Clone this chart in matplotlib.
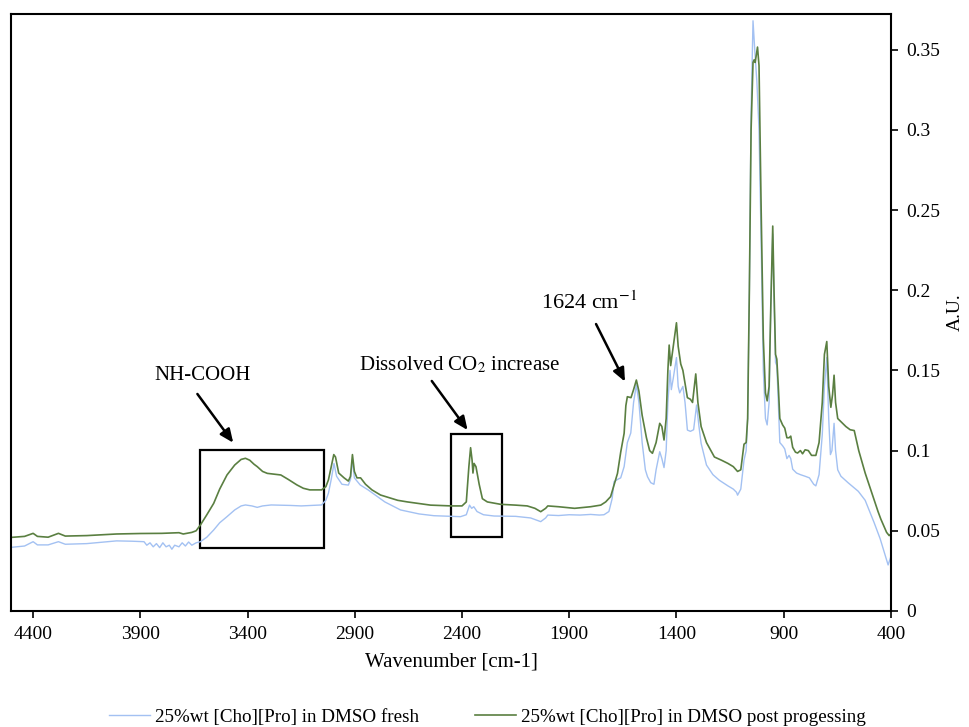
import matplotlib
matplotlib.use("Agg")
import matplotlib.pyplot as plt
from matplotlib.patches import Rectangle

plt.rcParams['font.family'] = ['Liberation Serif', 'DejaVu Serif']
plt.rcParams['mathtext.fontset'] = 'stix'

# spectrum 1: 25%wt [Cho][Pro] in DMSO fresh
wn_fresh = [4500, 4440, 4400, 4380, 4330, 4282, 4250, 4150, 4011, 3940, 3883, 3870, 3855, 3840,
            3825, 3810, 3795, 3780, 3765, 3753, 3740, 3720, 3705, 3690, 3675, 3660, 3640, 3620,
            3590, 3558, 3530, 3496, 3460, 3430, 3410, 3380, 3355, 3330, 3290, 3200, 3150, 3055,
            3035, 3023, 3010, 2997, 2985, 2960, 2930, 2920, 2911, 2902, 2875, 2838, 2760, 2687,
            2600, 2531, 2407, 2380, 2365, 2355, 2345, 2330, 2300, 2250, 2150, 2080, 2040, 2033,
            2010, 2000, 1950, 1900, 1850, 1800, 1760, 1738, 1715, 1700, 1691, 1675, 1660, 1644,
            1629, 1613, 1600, 1587, 1575, 1560, 1545, 1535, 1520, 1505, 1495, 1478, 1468, 1458,
            1448, 1440, 1430, 1424, 1415, 1400, 1392, 1385, 1370, 1360, 1349, 1335, 1320, 1306,
            1295, 1285, 1260, 1230, 1200, 1160, 1135, 1120, 1115, 1100, 1085, 1075, 1068, 1060,
            1052, 1043, 1035, 1025, 1015, 1005, 995, 985, 977, 968, 960, 951, 945, 938, 932, 925,
            918, 905, 895, 885, 875, 867, 858, 840, 822, 800, 780, 760, 750, 735, 720, 710, 699,
            690, 682, 675, 665, 658, 648, 633, 600, 552, 520, 478, 450, 413, 400]
ab_fresh = [0.0397, 0.0405, 0.0432, 0.0412, 0.0412, 0.0432, 0.0416, 0.0420, 0.0437, 0.0435, 0.0432,
            0.0410, 0.0425, 0.0400, 0.0420, 0.0395, 0.0425, 0.0400, 0.0410, 0.0385, 0.0410, 0.0400,
            0.0425, 0.0405, 0.0430, 0.0410, 0.0425, 0.0432, 0.0460, 0.0505, 0.0550, 0.0588, 0.0630,
            0.0655, 0.0661, 0.0655, 0.0646, 0.0655, 0.0661, 0.0658, 0.0655, 0.0661, 0.0690, 0.0734,
            0.0820, 0.0920, 0.0840, 0.0790, 0.0785, 0.0820, 0.0945, 0.0830, 0.0786, 0.0755, 0.0680,
            0.0630, 0.0605, 0.0594, 0.0588, 0.0600, 0.0660, 0.0640, 0.0650, 0.0620, 0.0600, 0.0592,
            0.0590, 0.0580, 0.0560, 0.0557, 0.0580, 0.0598, 0.0595, 0.0600, 0.0598, 0.0602, 0.0598,
            0.0600, 0.0620, 0.0700, 0.0806, 0.0820, 0.0830, 0.0900, 0.1050, 0.1110, 0.1300, 0.1410,
            0.1300, 0.1050, 0.0880, 0.0837, 0.0800, 0.0790, 0.0880, 0.0993, 0.0950, 0.0894, 0.1000,
            0.1300, 0.1500, 0.1380, 0.1450, 0.1580, 0.1400, 0.1360, 0.1400, 0.1300, 0.1128, 0.1120,
            0.1130, 0.1284, 0.1150, 0.1045, 0.0910, 0.0850, 0.0815, 0.0780, 0.0760, 0.0740, 0.0722,
            0.0760, 0.0940, 0.1000, 0.1200, 0.2000, 0.3100, 0.3680, 0.3500, 0.3300, 0.3000, 0.2300,
            0.1500, 0.1200, 0.1160, 0.1300, 0.1900, 0.2350, 0.1950, 0.1550, 0.1530, 0.1300, 0.1050,
            0.1030, 0.1010, 0.0950, 0.0970, 0.0950, 0.0884, 0.0860, 0.0850, 0.0840, 0.0830, 0.0790,
            0.0780, 0.0850, 0.1100, 0.1400, 0.1580, 0.1200, 0.0975, 0.1000, 0.1170, 0.1000, 0.0880,
            0.0840, 0.0800, 0.0746, 0.0690, 0.0550, 0.0450, 0.0287, 0.0340]

# spectrum 2: 25%wt [Cho][Pro] in DMSO post processing
wn_post = [4500, 4440, 4400, 4380, 4330, 4282, 4250, 4150, 4011, 3900, 3800, 3720, 3700, 3660,
           3640, 3620, 3590, 3558, 3530, 3496, 3460, 3430, 3410, 3390, 3370, 3355, 3330, 3308,
           3270, 3245, 3210, 3170, 3140, 3110, 3055, 3035, 3023, 3010, 2998, 2990, 2975, 2950,
           2930, 2920, 2911, 2902, 2890, 2873, 2850, 2820, 2780, 2700, 2655, 2547, 2450, 2400,
           2380, 2368, 2360, 2353, 2349, 2344, 2335, 2320, 2305, 2282, 2220, 2150, 2096, 2060,
           2033, 2010, 2000, 1950, 1875, 1800, 1753, 1730, 1707, 1690, 1675, 1660, 1644, 1636,
           1629, 1612, 1600, 1587, 1575, 1560, 1540, 1525, 1512, 1495, 1478, 1468, 1458, 1448,
           1440, 1434, 1427, 1420, 1400, 1392, 1380, 1370, 1349, 1335, 1325, 1310, 1300, 1285,
           1260, 1223, 1190, 1160, 1135, 1115, 1100, 1085, 1075, 1068, 1060, 1052, 1043, 1038,
           1033, 1022, 1015, 1005, 995, 985, 977, 968, 960, 951, 945, 938, 932, 925, 918, 905,
           895, 885, 875, 867, 858, 845, 835, 822, 812, 800, 785, 770, 750, 735, 720, 710, 699,
           690, 680, 672, 665, 658, 648, 633, 610, 590, 571, 550, 520, 490, 460, 447, 420, 408, 400]
ab_post = [0.0459, 0.0465, 0.0484, 0.0465, 0.0460, 0.0484, 0.0467, 0.0470, 0.0480, 0.0483, 0.0484,
           0.0488, 0.0480, 0.0490, 0.0500, 0.0536, 0.0600, 0.0671, 0.0760, 0.0848, 0.0910, 0.0945,
           0.0952, 0.0940, 0.0915, 0.0900, 0.0870, 0.0858, 0.0852, 0.0848, 0.0820, 0.0786, 0.0765,
           0.0755, 0.0755, 0.0775, 0.0817, 0.0900, 0.0975, 0.0960, 0.0860, 0.0830, 0.0810, 0.0840,
           0.0975, 0.0870, 0.0830, 0.0830, 0.0790, 0.0755, 0.0723, 0.0690, 0.0680, 0.0660, 0.0655,
           0.0655, 0.0680, 0.0900, 0.1018, 0.0940, 0.0860, 0.0920, 0.0900, 0.0790, 0.0700, 0.0680,
           0.0665, 0.0660, 0.0655, 0.0640, 0.0619, 0.0640, 0.0655, 0.0650, 0.0640, 0.0650, 0.0660,
           0.0680, 0.0713, 0.0790, 0.0858, 0.0990, 0.1108, 0.1280, 0.1336, 0.1330, 0.1380, 0.1440,
           0.1370, 0.1220, 0.1080, 0.1000, 0.0983, 0.1050, 0.1170, 0.1150, 0.1066, 0.1200, 0.1500,
           0.1658, 0.1530, 0.1600, 0.1797, 0.1650, 0.1540, 0.1500, 0.1330, 0.1320, 0.1300, 0.1478,
           0.1300, 0.1150, 0.1050, 0.0960, 0.0940, 0.0920, 0.0900, 0.0870, 0.0880, 0.1040, 0.1050,
           0.1200, 0.2000, 0.3000, 0.3420, 0.3436, 0.3420, 0.3516, 0.3400, 0.2500, 0.1700, 0.1360,
           0.1310, 0.1400, 0.1900, 0.2400, 0.2000, 0.1600, 0.1570, 0.1400, 0.1200, 0.1160, 0.1140,
           0.1080, 0.1080, 0.1090, 0.1020, 0.0990, 0.0985, 0.1000, 0.0980, 0.1005, 0.1000, 0.0970,
           0.0970, 0.1050, 0.1300, 0.1600, 0.1680, 0.1400, 0.1270, 0.1350, 0.1470, 0.1300, 0.1200,
           0.1180, 0.1150, 0.1130, 0.1125, 0.1000, 0.0860, 0.0740, 0.0620, 0.0573, 0.0490, 0.0470,
           0.0480]

label_fresh = '25%wt [Cho][Pro] in DMSO fresh'
label_post = '25%wt [Cho][Pro] in DMSO post progessing'
x_ticks = [4400, 3900, 3400, 2900, 2400, 1900, 1400, 900, 400]
y_ticks = [0, 0.05, 0.1, 0.15, 0.2, 0.25, 0.3, 0.35]
y_ticklabels = ['0', '0.05', '0.1', '0.15', '0.2', '0.25', '0.3', '0.35']

fig = plt.figure(figsize=(9.69, 7.27), dpi=100)
ax = fig.add_axes([0.0114, 0.1596, 0.908, 0.8211])

ax.plot(wn_fresh, ab_fresh, color='#a3c1f2', lw=1.0, label=label_fresh)
ax.plot(wn_post, ab_post, color='#5a7f41', lw=1.2, label=label_post)

ax.set_xlim(4503, 400)
ax.set_ylim(0, 0.3722)
ax.set_xticks(x_ticks)
ax.set_xticklabels([str(t) for t in x_ticks])
ax.set_yticks(y_ticks)
ax.set_yticklabels(y_ticklabels)
ax.yaxis.tick_right()
ax.yaxis.set_label_position('right')
ax.tick_params(axis='both', direction='out', length=5, width=1.2, labelsize=14, colors='black')
ax.tick_params(axis='x', pad=6)
ax.tick_params(axis='y', pad=6)
for s in ax.spines.values():
    s.set_linewidth(1.5)
    s.set_color('black')

ax.set_xlabel('Wavenumber [cm-1]', fontsize=15, labelpad=7)
ax.set_ylabel('A.U.', fontsize=14, labelpad=5)

# boxes round the changed bands
ax.add_patch(Rectangle((3623, 0.0391), 3045 - 3623, 0.1004 - 0.0391, fill=False, ec='black', lw=1.6))
ax.add_patch(Rectangle((2450, 0.0459), 2212 - 2450, 0.1104 - 0.0459, fill=False, ec='black', lw=1.6))

arrow = dict(arrowstyle='-|>,head_length=0.8,head_width=0.35', color='black', lw=1.8,
             shrinkA=0, shrinkB=0)
ax.text(3608, 0.1471, 'NH-COOH', fontsize=15, ha='center', va='center')
ax.annotate('', xy=(3467, 0.1049), xytext=(3634, 0.1353), arrowprops=arrow)
ax.text(2410, 0.1534, 'Dissolved CO$_2$ increase', fontsize=15, ha='center', va='center')
ax.annotate('', xy=(2374, 0.1128), xytext=(2541, 0.1434), arrowprops=arrow)
ax.text(1808, 0.1920, '1624 cm$^{-1}$', fontsize=16, ha='center', va='center')
ax.annotate('', xy=(1640, 0.1430), xytext=(1775, 0.1789), arrowprops=arrow)

fig.legend(loc='center', bbox_to_anchor=(0.503, 0.0138), ncol=2, frameon=False,
           fontsize=13.7, handlelength=2.15, columnspacing=2.95, handletextpad=0.25)

fig.savefig('out.png', dpi=100)
